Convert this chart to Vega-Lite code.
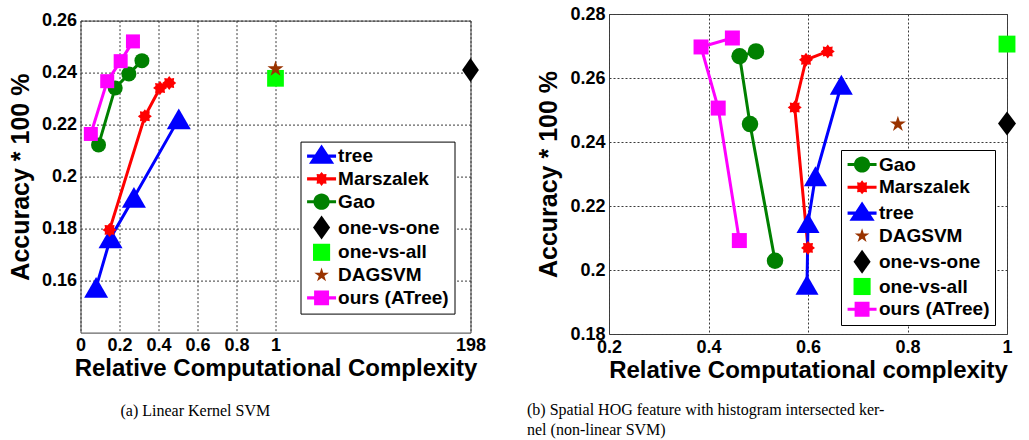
{
  "$schema": "https://vega.github.io/schema/vega-lite/v6.json",
  "background": "white",
  "padding": {"left": 7.5, "top": 4, "right": 0, "bottom": 0},
  "spacing": 39.5,
  "align": "none",
  "datasets": {
    "a": [
      {"series": "tree", "x": 0.08, "y": 0.1574, "ord": 1},
      {"series": "tree", "x": 0.154, "y": 0.1764, "ord": 2},
      {"series": "tree", "x": 0.274, "y": 0.192, "ord": 3},
      {"series": "tree", "x": 0.504, "y": 0.2222, "ord": 4},
      {"series": "Marszalek", "x": 0.149, "y": 0.1795, "ord": 1},
      {"series": "Marszalek", "x": 0.33, "y": 0.2232, "ord": 2},
      {"series": "Marszalek", "x": 0.408, "y": 0.2341, "ord": 3},
      {"series": "Marszalek", "x": 0.455, "y": 0.236, "ord": 4},
      {"series": "Gao", "x": 0.0925, "y": 0.2122, "ord": 1},
      {"series": "Gao", "x": 0.178, "y": 0.2341, "ord": 2},
      {"series": "Gao", "x": 0.248, "y": 0.2395, "ord": 3},
      {"series": "Gao", "x": 0.315, "y": 0.2446, "ord": 4},
      {"series": "one-vs-one", "x": 2, "y": 0.241, "ord": 0},
      {"series": "one-vs-all", "x": 1, "y": 0.2378, "ord": 0},
      {"series": "DAGSVM", "x": 1, "y": 0.2414, "ord": 0},
      {"series": "ours (ATree)", "x": 0.053, "y": 0.2164, "ord": 1},
      {"series": "ours (ATree)", "x": 0.137, "y": 0.2367, "ord": 2},
      {"series": "ours (ATree)", "x": 0.206, "y": 0.2444, "ord": 3},
      {"series": "ours (ATree)", "x": 0.269, "y": 0.252, "ord": 4}
    ],
    "b": [
      {"series": "Gao", "x": 0.4955, "y": 0.2683, "ord": 1},
      {"series": "Gao", "x": 0.4625, "y": 0.2668, "ord": 2},
      {"series": "Gao", "x": 0.4834, "y": 0.2456, "ord": 3},
      {"series": "Gao", "x": 0.5337, "y": 0.2029, "ord": 4},
      {"series": "Marszalek", "x": 0.6, "y": 0.2069, "ord": 1},
      {"series": "Marszalek", "x": 0.5733, "y": 0.2508, "ord": 2},
      {"series": "Marszalek", "x": 0.596, "y": 0.2657, "ord": 3},
      {"series": "Marszalek", "x": 0.6397, "y": 0.2683, "ord": 4},
      {"series": "tree", "x": 0.598, "y": 0.1954, "ord": 1},
      {"series": "tree", "x": 0.6, "y": 0.2147, "ord": 2},
      {"series": "tree", "x": 0.615, "y": 0.2293, "ord": 3},
      {"series": "tree", "x": 0.667, "y": 0.2579, "ord": 4},
      {"series": "DAGSVM", "x": 0.7807, "y": 0.2456, "ord": 0},
      {"series": "one-vs-one", "x": 1, "y": 0.2458, "ord": 0},
      {"series": "one-vs-all", "x": 1, "y": 0.2706, "ord": 0},
      {"series": "ours (ATree)", "x": 0.448, "y": 0.2725, "ord": 1},
      {"series": "ours (ATree)", "x": 0.385, "y": 0.2697, "ord": 2},
      {"series": "ours (ATree)", "x": 0.4195, "y": 0.2506, "ord": 3},
      {"series": "ours (ATree)", "x": 0.462, "y": 0.2092, "ord": 4}
    ]
  },
  "hconcat": [
    {
      "spacing": -5.4,
      "vconcat": [
        {
          "width": 390,
          "height": 1,
          "data": {"values": []},
          "mark": {"type": "point", "opacity": 0},
          "view": {"stroke": "transparent"}
        },
        {
          "width": 390,
          "height": 312,
          "data": {"name": "a"},
          "title": {"text": "(a) Linear Kernel SVM", "orient": "bottom", "anchor": "start", "frame": "group", "dx": 40, "offset": 22, "font": "Liberation Serif", "fontSize": 16, "fontWeight": "normal", "color": "#000"},
          "encoding": {
            "x": {"field": "x", "type": "quantitative", "scale": {"domain": [0, 2], "nice": false, "zero": false},
              "axis": {"values": [0, 0.2, 0.4, 0.6, 0.8, 1, 2], "labelExpr": "datum.value == 2 ? '198' : format(datum.value, '~g')", "title": "Relative Computational Complexity"}},
            "y": {"field": "y", "type": "quantitative", "scale": {"domain": [0.14, 0.26], "nice": false, "zero": false},
              "axis": {"values": [0.16, 0.18, 0.2, 0.22, 0.24, 0.26], "format": "~g", "title": "Accuracy * 100 %"}}
          },
          "layer": [
            {
              "transform": [{"filter": "datum.ord > 0"}],
              "mark": {"type": "line", "strokeWidth": 3},
              "encoding": {
                "color": {"field": "series", "type": "nominal", "legend": null,
                  "scale": {"domain": ["tree", "Marszalek", "Gao", "one-vs-one", "one-vs-all", "DAGSVM", "ours (ATree)"], "range": ["#0000ff", "#ff0000", "#008000", "#000000", "#00ff00", "#993300", "#ff00ff"]}},
                "order": {"field": "ord", "type": "quantitative"}
              }
            },
            {
              "mark": {"type": "point", "filled": true, "opacity": 1, "strokeWidth": 0},
              "encoding": {
                "color": {"field": "series", "type": "nominal", "legend": null,
                  "scale": {"domain": ["tree", "Marszalek", "Gao", "one-vs-one", "one-vs-all", "DAGSVM", "ours (ATree)"], "range": ["#0000ff", "#ff0000", "#008000", "#000000", "#00ff00", "#993300", "#ff00ff"]}},
                "shape": {"field": "series", "type": "nominal", "legend": null,
                  "scale": {"domain": ["tree", "Marszalek", "Gao", "one-vs-one", "one-vs-all", "DAGSVM", "ours (ATree)"],
                    "range": ["triangle-up",
                      "M1,0L0.65,0.27L0.707,0.707L0.27,0.65L0,1L-0.27,0.65L-0.707,0.707L-0.65,0.27L-1,0L-0.65,-0.27L-0.707,-0.707L-0.27,-0.65L0,-1L0.27,-0.65L0.707,-0.707L0.65,-0.27Z",
                      "circle",
                      "M0,-1L0.7,0L0,1L-0.7,0Z",
                      "square",
                      "M0,-1L0.223,-0.307L0.951,-0.309L0.361,0.117L0.588,0.809L0,0.38L-0.588,0.809L-0.361,0.117L-0.951,-0.309L-0.223,-0.307Z",
                      "square"]}},
                "size": {"field": "series", "type": "nominal", "legend": null,
                  "scale": {"type": "ordinal", "domain": ["tree", "Marszalek", "Gao", "one-vs-one", "one-vs-all", "DAGSVM", "ours (ATree)"], "range": [576, 196, 225, 576, 280, 285, 196]}}
              }
            },
            {
              "transform": [{"filter": "false"}],
              "mark": {"type": "point", "filled": true, "opacity": 1, "strokeWidth": 0},
              "encoding": {
                "color": {"field": "series", "type": "nominal",
                  "scale": {"domain": ["tree", "Marszalek", "Gao", "one-vs-one", "one-vs-all", "DAGSVM", "ours (ATree)"], "range": ["#0000ff", "#ff0000", "#008000", "#000000", "#00ff00", "#993300", "#ff00ff"]},
                  "legend": {"orient": "none", "legendX": 220, "legendY": 121, "title": null, "strokeColor": "#000", "fillColor": "#fff", "padding": 5, "symbolSize": 324, "symbolStrokeWidth": 0, "symbolOpacity": 1, "labelOffset": 13.6, "rowPadding": 2.8, "labelFont": "Liberation Sans", "labelFontSize": 19, "labelFontWeight": "bold", "labelColor": "#000"}},
                "shape": {"field": "series", "type": "nominal",
                  "scale": {"domain": ["tree", "Marszalek", "Gao", "one-vs-one", "one-vs-all", "DAGSVM", "ours (ATree)"],
                    "range": [
                      "M-0.88,-0.17L2.34,-0.17L2.34,0.17L-0.88,0.17ZM0.73,-1.3L2.13,0.85L-0.67,0.85Z",
                      "M-0.88,-0.17L2.34,-0.17L2.34,0.17L-0.88,0.17ZM1.51,0L1.24,0.21L1.282,0.552L0.94,0.51L0.73,0.78L0.52,0.51L0.178,0.552L0.22,0.21L-0.05,0L0.22,-0.21L0.178,-0.552L0.52,-0.51L0.73,-0.78L0.94,-0.51L1.282,-0.552L1.24,-0.21Z",
                      "M-0.88,-0.17L2.34,-0.17L2.34,0.17L-0.88,0.17ZM-0.17,0A0.9,0.9 0 1,1 1.63,0A0.9,0.9 0 1,1 -0.17,0Z",
                      "M0.73,-1.33L1.68,0L0.73,1.33L-0.22,0Z",
                      "M-0.22,-0.95L1.68,-0.95L1.68,0.95L-0.22,0.95Z",
                      "M0.73,-0.85L0.92,-0.262L1.54,-0.263L1.039,0.1L1.23,0.688L0.73,0.323L0.23,0.688L0.421,0.1L-0.08,-0.263L0.54,-0.262Z",
                      "M-0.88,-0.17L2.34,-0.17L2.34,0.17L-0.88,0.17ZM-0.1,-0.83L1.56,-0.83L1.56,0.83L-0.1,0.83Z"
                    ]}}
              }
            }
          ],
          "resolve": {"scale": {"color": "independent", "shape": "independent", "size": "independent"}}
        }
      ]
    },
    {
      "width": 398,
      "height": 320,
      "data": {"name": "b"},
      "title": {"text": ["(b) Spatial HOG feature with histogram intersected ker-", "nel (non-linear SVM)"], "orient": "bottom", "anchor": "start", "align": "left", "frame": "group", "dx": -82, "offset": 20.3, "lineHeight": 20, "font": "Liberation Serif", "fontSize": 16, "fontWeight": "normal", "color": "#000"},
      "encoding": {
        "x": {"field": "x", "type": "quantitative", "scale": {"domain": [0.2, 1], "nice": false, "zero": false},
          "axis": {"values": [0.2, 0.4, 0.6, 0.8, 1], "format": "~g", "title": "Relative Computational complexity"}},
        "y": {"field": "y", "type": "quantitative", "scale": {"domain": [0.18, 0.28], "nice": false, "zero": false},
          "axis": {"values": [0.18, 0.2, 0.22, 0.24, 0.26, 0.28], "format": "~g", "title": "Accuracy * 100 %"}}
      },
      "layer": [
        {
          "transform": [{"filter": "datum.ord > 0"}],
          "mark": {"type": "line", "strokeWidth": 3},
          "encoding": {
            "color": {"field": "series", "type": "nominal", "legend": null,
              "scale": {"domain": ["Gao", "Marszalek", "tree", "DAGSVM", "one-vs-one", "one-vs-all", "ours (ATree)"], "range": ["#008000", "#ff0000", "#0000ff", "#993300", "#000000", "#00ff00", "#ff00ff"]}},
            "order": {"field": "ord", "type": "quantitative"}
          }
        },
        {
          "mark": {"type": "point", "filled": true, "opacity": 1, "strokeWidth": 0},
          "encoding": {
            "color": {"field": "series", "type": "nominal", "legend": null,
              "scale": {"domain": ["Gao", "Marszalek", "tree", "DAGSVM", "one-vs-one", "one-vs-all", "ours (ATree)"], "range": ["#008000", "#ff0000", "#0000ff", "#993300", "#000000", "#00ff00", "#ff00ff"]}},
            "shape": {"field": "series", "type": "nominal", "legend": null,
              "scale": {"domain": ["Gao", "Marszalek", "tree", "DAGSVM", "one-vs-one", "one-vs-all", "ours (ATree)"],
                "range": ["circle",
                  "M1,0L0.65,0.27L0.707,0.707L0.27,0.65L0,1L-0.27,0.65L-0.707,0.707L-0.65,0.27L-1,0L-0.65,-0.27L-0.707,-0.707L-0.27,-0.65L0,-1L0.27,-0.65L0.707,-0.707L0.65,-0.27Z",
                  "triangle-up",
                  "M0,-1L0.223,-0.307L0.951,-0.309L0.361,0.117L0.588,0.809L0,0.38L-0.588,0.809L-0.361,0.117L-0.951,-0.309L-0.223,-0.307Z",
                  "M0,-1L0.75,0L0,1L-0.75,0Z",
                  "square",
                  "square"]}},
            "size": {"field": "series", "type": "nominal", "legend": null,
              "scale": {"type": "ordinal", "domain": ["Gao", "Marszalek", "tree", "DAGSVM", "one-vs-one", "one-vs-all", "ours (ATree)"], "range": [272, 196, 530, 285, 576, 285, 225]}}
          }
        },
        {
          "transform": [{"filter": "false"}],
          "mark": {"type": "point", "filled": true, "opacity": 1, "strokeWidth": 0},
          "encoding": {
            "color": {"field": "series", "type": "nominal",
              "scale": {"domain": ["Gao", "Marszalek", "tree", "DAGSVM", "one-vs-one", "one-vs-all", "ours (ATree)"], "range": ["#008000", "#ff0000", "#0000ff", "#993300", "#000000", "#00ff00", "#ff00ff"]},
              "legend": {"orient": "none", "legendX": 232, "legendY": 136, "title": null, "strokeColor": "#000", "fillColor": "#fff", "padding": 5, "symbolSize": 324, "symbolStrokeWidth": 0, "symbolOpacity": 1, "labelOffset": 14, "rowPadding": 2.8, "labelFont": "Liberation Sans", "labelFontSize": 19, "labelFontWeight": "bold", "labelColor": "#000"}},
            "shape": {"field": "series", "type": "nominal",
              "scale": {"domain": ["Gao", "Marszalek", "tree", "DAGSVM", "one-vs-one", "one-vs-all", "ours (ATree)"],
                "range": [
                  "M-0.88,-0.17L2.34,-0.17L2.34,0.17L-0.88,0.17ZM-0.17,0A0.9,0.9 0 1,1 1.63,0A0.9,0.9 0 1,1 -0.17,0Z",
                  "M-0.88,-0.17L2.34,-0.17L2.34,0.17L-0.88,0.17ZM1.51,0L1.24,0.21L1.282,0.552L0.94,0.51L0.73,0.78L0.52,0.51L0.178,0.552L0.22,0.21L-0.05,0L0.22,-0.21L0.178,-0.552L0.52,-0.51L0.73,-0.78L0.94,-0.51L1.282,-0.552L1.24,-0.21Z",
                  "M-0.88,-0.17L2.34,-0.17L2.34,0.17L-0.88,0.17ZM0.73,-1.3L2.13,0.85L-0.67,0.85Z",
                  "M0.73,-0.85L0.92,-0.262L1.54,-0.263L1.039,0.1L1.23,0.688L0.73,0.323L0.23,0.688L0.421,0.1L-0.08,-0.263L0.54,-0.262Z",
                  "M0.73,-1.33L1.68,0L0.73,1.33L-0.22,0Z",
                  "M-0.22,-0.95L1.68,-0.95L1.68,0.95L-0.22,0.95Z",
                  "M-0.88,-0.17L2.34,-0.17L2.34,0.17L-0.88,0.17ZM-0.1,-0.83L1.56,-0.83L1.56,0.83L-0.1,0.83Z"
                ]}}
          }
        }
      ],
      "resolve": {"scale": {"color": "independent", "shape": "independent", "size": "independent"}}
    }
  ],
  "config": {
    "font": "Liberation Sans",
    "view": {"stroke": "#404040", "strokeWidth": 1},
    "axis": {
      "labelFont": "Liberation Sans", "labelFontSize": 18, "labelFontWeight": "bold", "labelColor": "#000",
      "titleFont": "Liberation Sans", "titleFontWeight": "bold", "titleColor": "#000",
      "grid": true, "gridColor": "#3a3a3a", "gridDash": [2, 2], "gridOpacity": 1, "gridWidth": 1,
      "domain": false, "ticks": false, "labelPadding": 4, "labelFlush": false, "titlePadding": 6
    },
    "axisX": {"labelPadding": 4, "titlePadding": 2, "titleFontSize": 24},
    "axisY": {"titlePadding": 8, "titleFontSize": 25}
  }
}
